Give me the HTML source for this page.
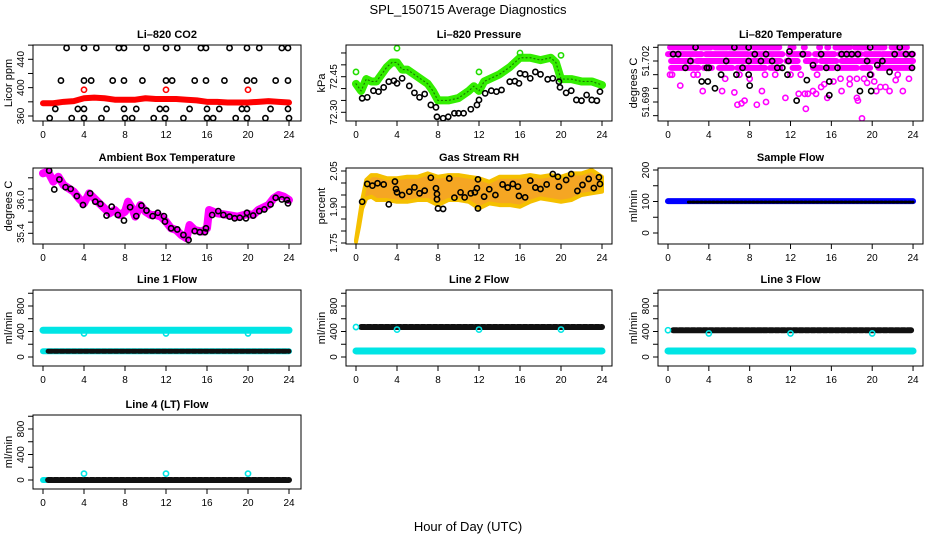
<!DOCTYPE html>
<html><head><meta charset="utf-8"><style>
html,body{margin:0;padding:0;background:#fff;}
svg{display:block;font-family:"Liberation Sans",sans-serif;}
</style></head><body>
<svg id="chart" width="936" height="540" viewBox="0 0 936 540" xmlns="http://www.w3.org/2000/svg">
<rect x="0" y="0" width="936" height="540" fill="#fff"/>
<text x="468" y="14" text-anchor="middle" font-size="13">SPL_150715  Average Diagnostics</text>
<text x="468" y="531" text-anchor="middle" font-size="13">Hour of Day (UTC)</text>
</svg>
<script>
// ---------- data ----------
const hourTicks = [0,4,8,12,16,20,24];
// CO2
const co2BandHours = [0,1,2,3,4,5,6,7,8,9,10,11,12,13,14,15,16,17,18,19,20,21,22,23,24];
const co2BandValues = [378,378,380,381,385,386,385,383,383,383,385,384,384,384,383,382,380,380,379,379,379,380,381,380,379];
const co2RedOutHours = [4,12,20];
const co2RedOutValues = [397,397,397];
const co2BlackHours = [2.3,4.0,5.2,7.4,7.9,10.1,12.0,13.1,15.4,15.9,18.2,19.9,21.1,23.3,23.9,
  1.75,4.0,4.7,6.8,7.9,9.7,12.0,12.6,14.8,15.9,17.7,19.9,20.6,22.7,23.9,
  1.2,3.4,4.0,6.2,7.9,9.1,11.4,12.0,14.3,16.0,17.2,19.4,19.9,22.2,23.9,
  0.65,2.8,4.0,5.7,8.0,8.7,10.8,11.9,13.7,16.0,16.6,18.8,19.9,21.7,24.0];
const co2BlackValues = [456,456,456,456,456,456,456,456,456,456,456,456,456,456,456,
  410,410,410,410,410,410,410,410,410,410,410,410,410,410,410,
  370,370,370,370,370,370,370,370,370,370,370,370,370,370,370,
  357,357,357,357,357,357,357,357,357,357,357,357,357,357,357];
// Pressure
const presBandHours = [0,0.5,1,1.5,2,2.5,3,3.5,4,4.5,5,6,7,7.5,8,9,10,11,11.5,12,12.5,13,14,15,15.5,16,17,18,19,19.5,20,21,22,23,24];
const presBandValues = [72.42,72.39,72.44,72.43,72.43,72.46,72.49,72.51,72.51,72.48,72.48,72.45,72.42,72.39,72.35,72.35,72.36,72.39,72.41,72.39,72.43,72.44,72.46,72.49,72.51,72.53,72.53,72.52,72.53,72.51,72.44,72.44,72.43,72.43,72.415];
const presGreenOutHours = [0,4,12,16,20];
const presGreenOutValues = [72.47,72.57,72.47,72.55,72.54];
const presBlackHours = [0.6,1.1,1.7,2.2,2.7,3.2,3.7,4,4.5,5.2,5.7,6.2,6.7,7.3,7.8,7.9,8.5,9,9.6,10,10.5,11.2,11.8,12,12.6,13.2,13.7,14.2,15,15.5,15.9,16,16.5,17,17.5,18,18.7,19.2,19.8,19.9,20.5,21,21.5,22,22.5,23,23.5,23.8];
const presBlackValues = [72.359,72.363,72.391,72.387,72.405,72.429,72.433,72.422,72.443,72.411,72.382,72.363,72.377,72.331,72.321,72.281,72.275,72.281,72.296,72.296,72.296,72.313,72.331,72.352,72.38,72.391,72.387,72.394,72.429,72.431,72.422,72.464,72.46,72.443,72.47,72.46,72.439,72.443,72.429,72.405,72.382,72.391,72.352,72.349,72.373,72.352,72.349,72.387];
// Li-820 temperature
const tempLevels = [51.7030,51.7025,51.7020,51.7015];
const tempSegStart = [
  [0.2,3.2,4.6,6,8.4,9.9,12,13.3,14.8,15.6,16.4,18.3,20.2,21.9],
  [0,3.7,8.1,11.8,14.4,16.8,19.3,21],
  [0.3,2.8,8.1,11.6,13.5,15,17,19.8],
  [0.3,3.5,5,6.8,10,12.2,14.2,15.6,16.8,19,20.6]];
const tempSegEnd = [
  [2.7,4.2,5.8,7.8,9.6,10.9,12.3,13.4,14.9,15.7,17.8,19.6,21.2,23.4],
  [3.3,7.8,11.2,13.8,16.3,18.9,20.8,24],
  [2.4,7.7,11,12.7,14.5,16.5,19.4,24],
  [3,4.3,6.3,9.5,11,12.8,15,16.2,18.5,19.8,23.8]];
const tempMagHours = [0.2,1.2,3.4,5.3,6.5,7.5,7.2,6.8,8.7,9.2,9.6,11.5,12.8,13.4,13.5,13.7,14.2,14.5,15,15.3,15.6,16.2,17,17.8,18.5,18.6,19,19.5,20.4,20.8,21.3,21.7,22.3,23,
  0.4,2.5,2.9,5.6,7.0,8.0,9.5,10.5,12,13,14.6,16.9,17.8,18.5,19.2,19.9,20.2,22.5,23.6];
const tempMagValues = [51.7010,51.7002,51.6998,51.6998,51.6997,51.6991,51.6989,51.6988,51.6988,51.6998,51.6990,51.6993,51.6996,51.6996,51.6985,51.6996,51.6998,51.6996,51.7001,51.7003,51.6993,51.7005,51.6998,51.7003,51.6993,51.6991,51.6978,51.7004,51.6998,51.7001,51.7001,51.6998,51.7006,51.6998,
  51.7010,51.7010,51.7010,51.7007,51.7010,51.7007,51.7010,51.7010,51.7010,51.7010,51.7010,51.7007,51.7007,51.7007,51.7007,51.7010,51.7005,51.7010,51.7007];
const tempBlackHours = [0.5,1,1.7,2.2,2.7,3.3,3.8,3.9,4,4.6,5.2,5.7,6.5,6.7,7.3,7.9,7.9,7.9,8,8.5,9.1,9.6,10.2,10.7,11.2,11.7,11.8,11.9,12.6,13.2,13.6,14.2,15,15.5,15.8,15.8,16.6,17,17.5,18,18.6,18.8,19.5,19.8,19.8,19.9,20.5,21,21.7,22.2,22.7,23.3,23.9,23.9];
const tempBlackValues = [51.7025,51.7025,51.7015,51.7020,51.7030,51.7005,51.7015,51.7005,51.7015,51.7000,51.7010,51.7020,51.7030,51.7010,51.7015,51.7030,51.7020,51.7010,51.7002,51.7025,51.7020,51.7025,51.7020,51.7015,51.7015,51.7010,51.7020,51.7027,51.6991,51.7025,51.7006,51.7017,51.7025,51.7015,51.7005,51.6995,51.7015,51.7025,51.7025,51.7025,51.7025,51.6998,51.7020,51.7010,51.7030,51.6998,51.7017,51.7020,51.7012,51.7025,51.7030,51.7025,51.7025,51.7015];
// Ambient box temperature
const ambBandHours = [0,0.5,1,1.5,2,2.5,3,3.5,4,4.5,5,5.5,6,6.5,7,7.5,8,8.3,8.7,9,9.5,10,10.5,11,11.5,12,12.5,13,13.5,14,14.3,14.8,15.5,16,16.2,17,18,19,20,20.5,21,22,22.5,23,23.5,24];
const ambBandValues = [36.48,36.51,36.33,36.42,36.27,36.21,36.15,36.03,35.94,36.12,36.03,35.94,35.85,35.76,35.82,35.73,35.79,35.97,35.85,35.70,35.91,35.79,35.73,35.73,35.70,35.61,35.49,35.46,35.37,35.31,35.55,35.46,35.43,35.49,35.82,35.76,35.73,35.70,35.75,35.73,35.82,35.91,36.03,36.09,36.06,36.0];
const ambBlackHours = [0.6,1.1,1.6,2.2,2.7,3.3,3.9,4.6,5.1,5.6,6.2,6.7,7.3,7.9,8.5,9.1,9.6,10.1,10.7,11.2,11.8,11.9,12.5,13.1,13.7,14.2,14.8,15.3,15.8,15.9,16.5,17.1,17.6,18.2,18.7,19.2,19.8,19.9,20.5,21.1,21.6,22.2,22.7,23.3,23.8,23.9];
const ambBlackValues = [36.53,36.19,36.37,36.23,36.20,36.07,35.91,36.12,35.97,35.93,35.72,35.88,35.73,35.63,35.87,35.71,35.90,35.81,35.71,35.77,35.71,35.61,35.49,35.47,35.37,35.28,35.44,35.42,35.42,35.49,35.73,35.80,35.73,35.70,35.67,35.68,35.67,35.77,35.72,35.80,35.83,35.92,36.04,36.01,36.0,35.94];
// Gas stream RH
const rhEnvHours = [0,0.3,0.6,1,1.5,2,3,4,5,6,7,8,9,10,11,12,13,14,15,16,17,18,19,20,21,22,23,24];
const rhUpperValues = [1.762,1.846,1.929,2.0125,2.033,2.033,2.020,2.020,2.026,2.026,2.040,2.026,2.033,2.033,2.026,2.020,2.005,2.026,2.026,2.026,2.033,2.026,2.033,2.026,2.040,2.040,2.054,2.026];
const rhLowerValues = [1.755,1.818,1.894,1.936,1.943,1.929,1.929,1.922,1.922,1.929,1.929,1.908,1.929,1.929,1.922,1.894,1.915,1.908,1.908,1.901,1.922,1.936,1.929,1.922,1.929,1.950,1.957,1.964];
const rhBlackHours = [0.6,1.1,1.6,2.1,2.7,3.2,3.8,3.9,4,4.5,5.2,5.7,6.2,6.7,7.3,7.8,7.9,7.9,8,8.5,9.1,9.6,10.2,10.6,11.2,11.6,11.8,11.9,11.9,12.5,13,13.6,14.3,14.8,15.3,15.8,15.9,16.5,17,17.5,18,18.6,19.2,19.7,19.8,20.5,21,21.6,22.1,22.7,23.2,23.7,23.8];
const rhBlackValues = [1.922,1.996,1.989,1.999,1.994,1.911,2.006,1.975,1.961,1.950,1.964,1.982,1.957,1.968,2.022,1.978,1.954,1.932,1.894,1.892,2.019,1.939,1.961,1.940,1.957,1.961,1.978,2.015,1.894,1.943,1.974,1.950,1.994,1.981,1.996,1.985,1.946,1.940,2.010,1.981,1.975,1.994,2.0375,2.026,1.985,2.0125,2.0375,1.967,1.992,2.017,1.979,2.024,1.996];
// Sample flow
const sampleHours = [0,2,4,4.5,6,8,8.2,10,12,12.5,14,16,18,20,20.5,22,24];
const sampleBlueValues = [101,101,101,101,101,101,101,101,101,101,101,101,101,101,101,101,101];
const sampleBlackValues = [98,98,98,98,98,98,98,98,98,98,98,98,98,98,98,98,98];
// Line flows
const flowHours = [0,2,4,6,8,10,12,14,16,18,20,22,24];
const line1HighCyan = [420,420,420,420,420,420,420,420,420,420,420,420,420];
const line1LowBlack = [90,90,90,90,90,90,90,90,90,90,90,90,90];
const line2HighBlack = [470,470,470,470,470,470,470,470,470,470,470,470,470];
const line2LowCyan = [95,95,95,95,95,95,95,95,95,95,95,95,95];
const line3HighBlack = [420,420,420,420,420,420,420,420,420,420,420,420,420];
const line3LowCyan = [95,95,95,95,95,95,95,95,95,95,95,95,95];
const line4Black = [0,0,0,0,0,0,0,0,0,0,0,0,0];
const dipHours = [4,12,20];
const line1Dips = [370,370,370];
const line2Dips = [430,430,430];
const line3Dips = [370,370,370];
const line4Spikes = [100,100,100];
const line2StartValue = [470];
const line3StartValue = [420];

// ---------- drawing ----------
const NS = 'http://www.w3.org/2000/svg';
const svg = document.getElementById('chart');
function mk(tag, parent) { const e = document.createElementNS(NS, tag); parent.appendChild(e); return e; }
function sa(e, o) { for (const k in o) e.setAttribute(k, o[k]); return e; }

const cols = [{l:33,r:301,x0:43,k:10.25},{l:346,r:612,x0:356,k:10.25},{l:658,r:923,x0:668,k:10.21}];
const rows = [{t:45,b:121},{t:168,b:244},{t:290,b:366},{t:415,b:489}];

function panel(name, title, ci, ri, ylab, v1, p1, v2, p2, ticks, labels) {
  const c = cols[ci], r = rows[ri];
  const g = mk('g', svg);
  
  
  const X = h => c.x0 + h * c.k;
  const Y = v => p1 + (v - v1) * (p2 - p1) / (v2 - v1);
  const clipId = name + '-clip';
  const cp = mk('clipPath', g); cp.setAttribute('id', clipId);
  sa(mk('rect', cp), {x:c.l, y:r.t, width:c.r-c.l, height:r.b-r.t});
  const plot = mk('g', g);
  plot.setAttribute('clip-path', 'url(#' + clipId + ')');
  
  
  const box = sa(mk('rect', g), {x:c.l, y:r.t, width:c.r-c.l, height:r.b-r.t, fill:'none', stroke:'#000', 'stroke-width':1});
  
  
  const tt = sa(mk('text', g), {x:(c.l+c.r)/2, y:r.t-7, 'text-anchor':'middle', 'font-size':11, 'font-weight':'bold'});
  tt.textContent = title;
  
  
  hourTicks.forEach(h => {
    sa(mk('line', g), {x1:X(h), x2:X(h), y1:r.b, y2:r.b+5, stroke:'#000'});
    const t = sa(mk('text', g), {x:X(h), y:r.b+17, 'text-anchor':'middle', 'font-size':10});
    t.textContent = h;
    
    
  });
  ticks.forEach(v => { sa(mk('line', g), {x1:c.l-5, x2:c.l, y1:Y(v), y2:Y(v), stroke:'#000'}); });
  labels.forEach(s => {
    const y = Y(parseFloat(s));
    const t = sa(mk('text', g), {x:c.l-9, y:y, 'text-anchor':'middle', 'font-size':10, transform:'rotate(-90 ' + (c.l-9) + ' ' + y + ')'});
    t.textContent = s;
    
    
  });
  const cy = (r.t + r.b) / 2;
  const yt = sa(mk('text', g), {x:c.l-21, y:cy, 'text-anchor':'middle', 'font-size':11, transform:'rotate(-90 ' + (c.l-21) + ' ' + cy + ')'});
  yt.textContent = ylab;
  
  
  return {X, Y, plot};
}

function pts(P, hs, vs, color, name, rad, sw) {
  const g = mk('g', P.plot);
  
  
  hs.forEach((h, i) => {
    const c = sa(mk('circle', g), {cx:P.X(h), cy:P.Y(vs[i]), r:rad||2.6, fill:'none', stroke:color, 'stroke-width':sw||1.6});
    
    
  });
}
function band(P, hs, vs, color, name, w, dash) {
  const pl = sa(mk('polyline', P.plot), {points:hs.map((h,i)=>P.X(h)+','+P.Y(vs[i])).join(' '), fill:'none', stroke:color, 'stroke-width':w, 'stroke-linejoin':'round', 'stroke-linecap':'round'});
  if (dash) pl.setAttribute('stroke-dasharray', dash);
  
  
}

// CO2
let P = panel('co2', 'Li\u2013820 CO2', 0, 0, 'Licor ppm', 360, 116, 440, 59.3, [360,380,400,420,440,460], ['360','400','440']);
band(P, co2BandHours, co2BandValues, '#f00', 'co2-red-band', 6);
pts(P, co2RedOutHours, co2RedOutValues, '#f00', 'co2-red-outliers');
pts(P, co2BlackHours, co2BlackValues, '#000', 'co2-black-points');

// Pressure
P = panel('pressure', 'Li\u2013820 Pressure', 1, 0, 'kPa', 72.30, 112.3, 72.45, 76.7, [72.30,72.35,72.40,72.45,72.50,72.55], ['72.30','72.45']);
band(P, presBandHours, presBandValues, '#33ee00', 'pressure-green-band', 8);
band(P, presBandHours, presBandValues, '#1a7a00', 'pressure-green-texture', 1.2, '1 3');
pts(P, presGreenOutHours, presGreenOutValues, '#22dd00', 'pressure-green-outliers');
pts(P, presBlackHours, presBlackValues, '#000', 'pressure-black-points');

// Li-820 temperature
P = panel('li820-temp', 'Li\u2013820 Temperature', 2, 0, 'degrees C', 51.699, 102, 51.702, 61, [51.698,51.699,51.700,51.701,51.702,51.703], ['51.699','51.702']);
tempLevels.forEach((lv, li) => {
  tempSegStart[li].forEach((s, si) => {
    band(P, [s, tempSegEnd[li][si]], [lv, lv], '#ff00ff', 'temp-magenta-band', 6);
  });
});
pts(P, tempMagHours, tempMagValues, '#ff00ff', 'temp-magenta-points');
pts(P, tempBlackHours, tempBlackValues, '#000', 'temp-black-points');

// Ambient
P = panel('ambient', 'Ambient Box Temperature', 0, 1, 'degrees C', 36.0, 200, 35.4, 233.3, [35.4,35.6,35.8,36.0,36.2,36.4], ['35.4','36.0']);
band(P, ambBandHours, ambBandValues, '#ff00ff', 'ambient-magenta-band', 8);
pts(P, ambBlackHours, ambBlackValues, '#000', 'ambient-black-points');

// RH
P = panel('rh', 'Gas Stream RH', 1, 1, 'percent', 2.05, 171, 1.75, 243, [1.75,1.80,1.85,1.90,1.95,2.00,2.05], ['1.75','1.90','2.05']);
{
  const poly = sa(mk('polygon', P.plot), {
    points: rhEnvHours.map((h,i)=>P.X(h)+','+P.Y(rhUpperValues[i])).concat(rhEnvHours.slice().reverse().map((h,j)=>P.X(h)+','+P.Y(rhLowerValues[rhEnvHours.length-1-j]))).join(' '),
    fill:'#f5a623', stroke:'#f5c000', 'stroke-width':4, 'stroke-linejoin':'round'});
  
  
}
pts(P, rhBlackHours, rhBlackValues, '#000', 'rh-black-points');

// Sample flow
P = panel('sample-flow', 'Sample Flow', 2, 1, 'ml/min', 0, 233, 200, 170, [0,50,100,150,200], ['0','100','200']);
band(P, sampleHours, sampleBlueValues, '#0000ff', 'sample-blue-band', 6);
band(P, sampleHours.slice(1), sampleBlackValues.slice(1), '#000', 'sample-black-band', 3, '2 2');

// Line flows
const fTicks = [0,200,400,600,800,1000], fLabels = ['0','400','800'];
P = panel('line1', 'Line 1 Flow', 0, 2, 'ml/min', 0, 357, 800, 306, fTicks, fLabels);
band(P, flowHours, line1HighCyan, '#00e5e5', 'line1-cyan-band', 7);
band(P, flowHours, line1LowBlack, '#00e5e5', 'line1-cyan-low-band', 6);
band(P, flowHours.slice(1).map((h,i)=>i==0?0.5:h), line1LowBlack.slice(1), '#111', 'line1-black-band', 5, '4 2');
pts(P, dipHours, line1Dips, '#00e5e5', 'line1-cyan-dips');

P = panel('line2', 'Line 2 Flow', 1, 2, 'ml/min', 0, 357, 800, 306, fTicks, fLabels);
band(P, flowHours, line2LowCyan, '#00e5e5', 'line2-cyan-band', 7);
band(P, flowHours.slice(1).map((h,i)=>i==0?0.5:h), line2HighBlack.slice(1), '#111', 'line2-black-band', 6, '4 2');
pts(P, [0], line2StartValue, '#00e5e5', 'line2-cyan-start');
pts(P, dipHours, line2Dips, '#00e5e5', 'line2-cyan-dips');

P = panel('line3', 'Line 3 Flow', 2, 2, 'ml/min', 0, 357, 800, 306, fTicks, fLabels);
band(P, flowHours, line3LowCyan, '#00e5e5', 'line3-cyan-band', 7);
band(P, flowHours.slice(1).map((h,i)=>i==0?0.5:h), line3HighBlack.slice(1), '#111', 'line3-black-band', 6, '4 2');
pts(P, [0], line3StartValue, '#00e5e5', 'line3-cyan-start');
pts(P, dipHours, line3Dips, '#00e5e5', 'line3-cyan-dips');

P = panel('line4', 'Line 4 (LT) Flow', 0, 3, 'ml/min', 0, 480, 800, 429, fTicks, fLabels);
band(P, [0, 0.3], [line4Black[0], line4Black[0]], '#00e5e5', 'line4-cyan-start', 6);
band(P, flowHours.slice(1).map((h,i)=>i==0?0.5:h), line4Black.slice(1), '#111', 'line4-black-band', 6, '4 2');
pts(P, dipHours, line4Spikes, '#00e5e5', 'line4-cyan-spikes');
</script>
</body></html>
